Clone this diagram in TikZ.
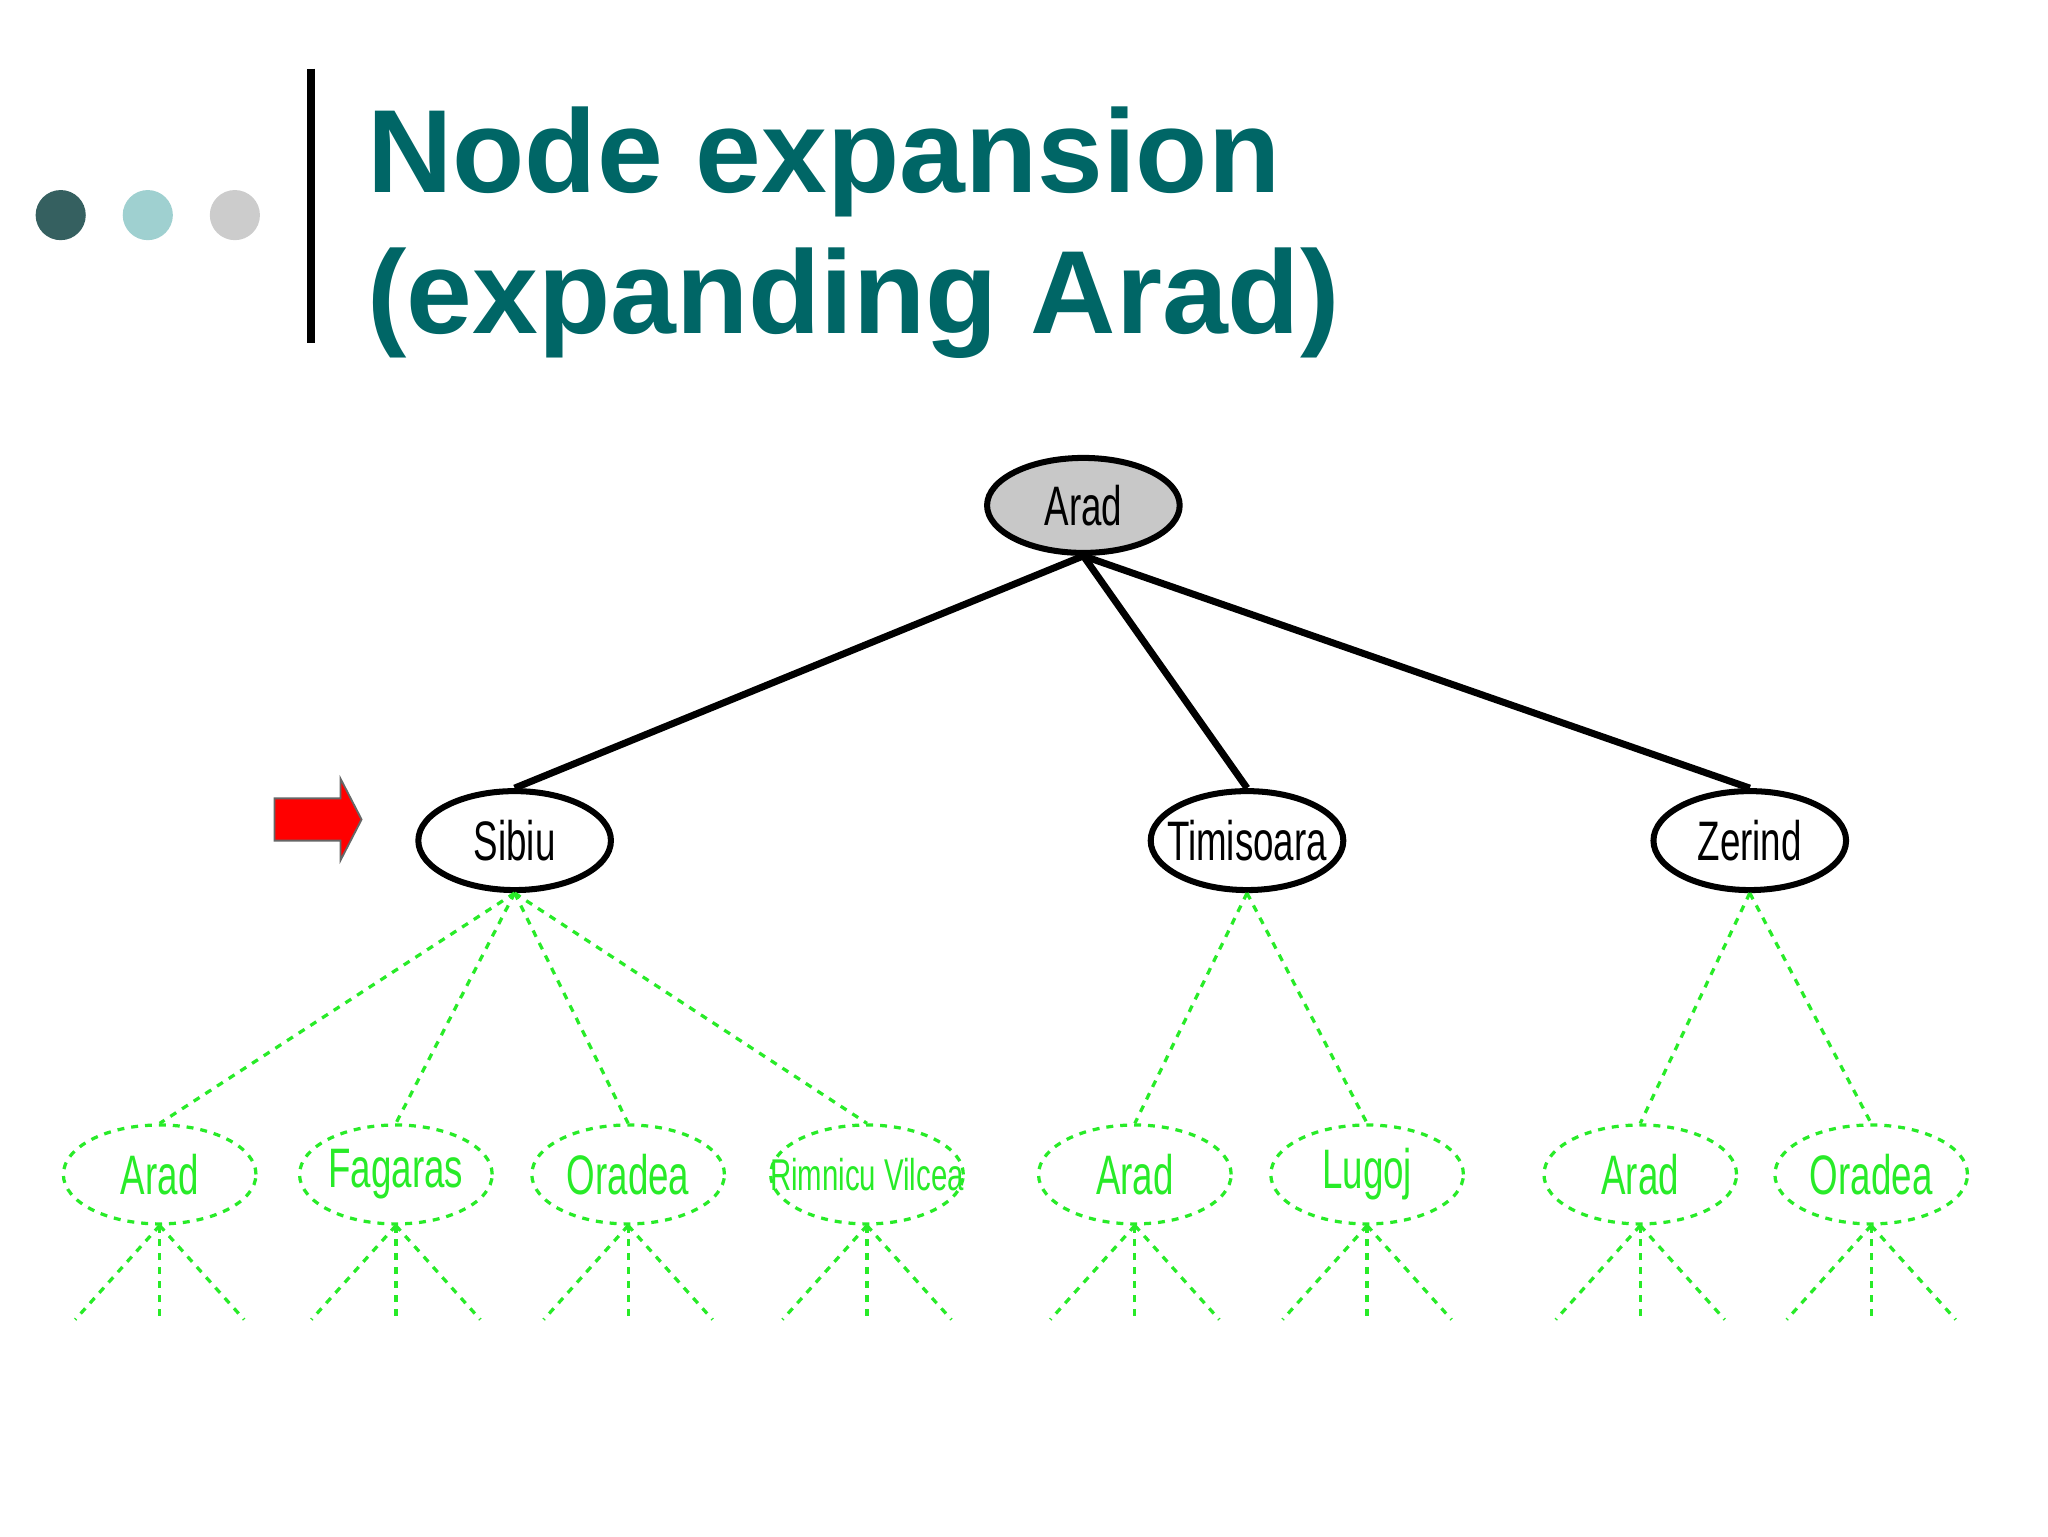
\documentclass[tikz,border=0pt]{standalone}
\usepackage{fontspec}
\setmainfont{Liberation Sans}
\usetikzlibrary{shapes.geometric}
\definecolor{teal1}{RGB}{0,102,102}
\definecolor{gr}{RGB}{40,235,40}
\newcommand{\nar}[1]{\makebox[0pt]{\scalebox{0.66}[1]{#1}}}
\begin{document}
\begin{tikzpicture}[x=0.02cm,y=-0.02cm,
  tnode/.style={ellipse,draw,line width=2.6pt,minimum width=2.92cm,minimum height=1.5cm,inner sep=0pt,font=\fontsize{24}{24}\selectfont},
  lnode/.style={ellipse,draw=gr,dashed,line width=1.4pt,text=gr,minimum width=2.92cm,minimum height=1.5cm,inner sep=0pt,font=\fontsize{24}{24}\selectfont},
  tedge/.style={line width=3pt},
  ledge/.style={draw=gr,dashed,line width=1.4pt}]
\useasboundingbox (0,0) rectangle (1552,1164);
\fill[fill={rgb,255:red,53;green,96;blue,96}] (46,163) circle (19);
\fill[fill={rgb,255:red,159;green,208;blue,208}] (112,163) circle (19);
\fill[fill={rgb,255:red,204;green,204;blue,204}] (178,163) circle (19);
\draw[line width=3.5pt] (236,52) -- (236,260);
\node[anchor=base west,text=teal1,font=\fontsize{51}{51}\selectfont\bfseries,inner sep=0] (t1) at (278,146) {Node expansion};
\node[anchor=base west,text=teal1,font=\fontsize{51}{51}\selectfont\bfseries,inner sep=0] (t2) at (278,253) {(expanding Arad)};
\node[tnode,fill={rgb,255:red,200;green,200;blue,200},minimum height=1.44cm] (r) at (821,383) {\nar{Arad}};
\node[tnode] (s) at (390,637) {\nar{Sibiu}};
\node[tnode] (t) at (945,637) {\nar{Timisoara}};
\node[tnode] (z) at (1326,637) {\nar{Zerind}};
\draw[tedge] (r.south) -- (s.north);
\draw[tedge] (r.south) -- (t.north);
\draw[tedge] (r.south) -- (z.north);
\filldraw[fill=red,draw=black!60,line width=0.8pt] (208,605) -- (258,605) -- (258,590) -- (274,621) -- (258,652) -- (258,637) -- (208,637) -- cycle;
\foreach \n/\x/\t/\p in {a1/121/Arad/s,a2/300/Fagaras/s,a3/476/Oradea/s,a4/657/{\scalebox{0.8}{Rimnicu Vilcea}}/s,a5/860/Arad/t,a6/1036/Lugoj/t,a7/1243/Arad/z,a8/1418/Oradea/z}{
  \node[lnode] (\n) at (\x,890) {\nar{\t}};
  \draw[ledge] (\p.south) -- (\n.north);
  \coordinate (\n l) at (\x-64,1000);
  \coordinate (\n m) at (\x,1000);
  \coordinate (\n r) at (\x+64,1000);
  \draw[ledge] (\n.south) -- (\n l);
  \draw[ledge] (\n.south) -- (\n m);
  \draw[ledge] (\n.south) -- (\n r);
}
\end{tikzpicture}
\end{document}
